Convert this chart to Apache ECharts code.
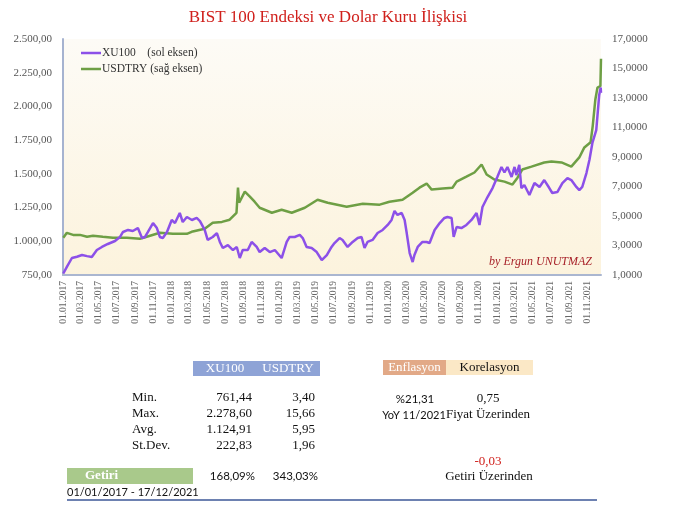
<!DOCTYPE html>
<html>
<head>
<meta charset="utf-8">
<script src="https://cdn.jsdelivr.net/npm/echarts@6/dist/echarts.min.js"></script>
<style>
html, body { margin: 0; padding: 0; background: #fff; }
#chart { width: 680px; height: 523px; }
</style>
</head>
<body>
<div id="chart"></div>
<script>
// XU100 (left axis)
const xuDates = ['2017-01-02','2017-01-14','2017-01-31','2017-02-17','2017-03-06','2017-03-23','2017-04-08','2017-04-25','2017-05-12','2017-06-01','2017-06-25','2017-07-12','2017-07-22','2017-08-08','2017-08-24','2017-09-10','2017-09-24','2017-10-04','2017-10-14','2017-10-31','2017-11-13','2017-11-23','2017-12-03','2017-12-17',
  '2018-01-02','2018-01-13','2018-01-29','2018-02-08','2018-02-22','2018-03-11','2018-03-27','2018-04-07','2018-04-23','2018-05-03','2018-05-20','2018-06-03','2018-06-13','2018-06-23','2018-07-10','2018-07-27','2018-08-09','2018-08-19','2018-08-29','2018-09-15','2018-09-28','2018-10-15','2018-10-25','2018-11-11','2018-11-28','2018-12-15',
  '2019-01-07','2019-01-24','2019-02-03','2019-02-20','2019-03-09','2019-03-19','2019-04-01','2019-04-18','2019-05-05','2019-05-22','2019-06-08','2019-06-24','2019-07-04','2019-07-21','2019-07-31','2019-08-17','2019-09-03','2019-09-20','2019-10-03','2019-10-13','2019-10-23','2019-11-09','2019-11-26','2019-12-13','2019-12-30',
  '2020-01-12','2020-01-22','2020-02-01','2020-02-15','2020-02-25','2020-03-03','2020-03-13','2020-03-23','2020-03-29','2020-04-09','2020-04-25','2020-05-09','2020-05-19','2020-06-05','2020-06-22','2020-07-08','2020-07-18','2020-08-01','2020-08-08','2020-08-18','2020-09-03','2020-09-20','2020-10-07','2020-10-24','2020-11-03','2020-11-13','2020-11-30','2020-12-17',
  '2021-01-02','2021-01-16','2021-01-26','2021-02-05','2021-02-19','2021-03-01','2021-03-07','2021-03-17','2021-03-24','2021-04-03','2021-04-20','2021-05-07','2021-05-24','2021-06-09','2021-06-26','2021-07-06','2021-07-23','2021-08-09','2021-08-26','2021-09-08','2021-09-25','2021-10-05','2021-10-15','2021-10-29','2021-11-08','2021-11-18','2021-12-01','2021-12-11','2021-12-16','2021-12-17'];
const xuValues = [761,810,876,885,898,890,883,935,958,980,1002,1032,1069,1084,1076,1098,1024,1032,1069,1135,1098,1032,1024,1069,
  1158,1135,1210,1143,1180,1158,1173,1150,1084,1010,1032,1061,995,950,972,935,958,876,935,935,995,958,920,950,920,935,
  876,995,1032,1032,1047,1024,958,950,920,861,898,958,987,1024,1010,958,995,1024,1032,950,995,1010,1061,1084,1121,
  1158,1225,1195,1210,1158,1061,913,846,898,958,995,995,987,1084,1135,1173,1180,1173,1032,1106,1098,1121,1158,1210,1121,1254,1328,1395,
  1477,1551,1510,1551,1477,1551,1491,1566,1395,1417,1343,1432,1403,1454,1395,1358,1365,1432,1469,1454,1403,1380,1403,1506,1603,1729,1825,2085,2140,2100];

// USDTRY (right axis)
const usdDates = ['2017-01-02','2017-01-14','2017-02-04','2017-02-27','2017-03-23','2017-04-12','2017-05-15','2017-06-18','2017-08-04','2017-09-17','2017-10-10','2017-11-23',
  '2018-01-06','2018-02-22','2018-03-10','2018-04-23','2018-05-20','2018-06-20','2018-07-16','2018-08-08','2018-08-13','2018-08-17','2018-09-05','2018-09-22','2018-10-08','2018-10-25','2018-12-05',
  '2019-01-07','2019-02-10','2019-03-26','2019-05-08','2019-06-11','2019-08-14','2019-10-07','2019-12-03',
  '2020-01-05','2020-02-18','2020-03-23','2020-04-15','2020-05-09','2020-05-26','2020-07-02','2020-08-04','2020-08-18','2020-09-20','2020-10-17','2020-11-10','2020-11-27','2020-12-23',
  '2021-01-26','2021-02-22','2021-03-11','2021-03-27','2021-04-27','2021-06-09','2021-07-03','2021-08-06','2021-09-08','2021-10-05','2021-10-22','2021-11-12','2021-11-19','2021-11-28','2021-12-05','2021-12-15','2021-12-17'];
const usdValues = [3.52,3.86,3.72,3.72,3.59,3.66,3.59,3.52,3.52,3.45,3.59,3.86,
  3.80,3.79,3.93,4.13,4.54,4.60,4.75,5.22,6.92,5.90,6.65,6.31,5.97,5.56,5.22,
  5.42,5.22,5.56,6.10,5.90,5.63,5.83,5.77,
  5.97,6.10,6.58,6.92,7.20,6.79,6.86,6.92,7.33,7.67,7.95,8.49,7.81,7.47,
  7.33,7.13,7.60,8.15,8.35,8.63,8.70,8.63,8.35,8.97,9.65,10.00,11.08,12.90,13.70,13.80,15.66];

// x axis tick labels (every two months)
const xTickLabels = ['01.01.2017','01.03.2017','01.05.2017','01.07.2017','01.09.2017','01.11.2017',
  '01.01.2018','01.03.2018','01.05.2018','01.07.2018','01.09.2018','01.11.2018',
  '01.01.2019','01.03.2019','01.05.2019','01.07.2019','01.09.2019','01.11.2019',
  '01.01.2020','01.03.2020','01.05.2020','01.07.2020','01.09.2020','01.11.2020',
  '01.01.2021','01.03.2021','01.05.2021','01.07.2021','01.09.2021','01.11.2021'];
const rightTicks = [1, 3, 5, 7, 9, 11, 13, 15, 17];

// summary table
const statLabels = ['Min.', 'Max.', 'Avg.', 'St.Dev.'];
const xuStats = [761.44, 2278.60, 1124.91, 222.83];
const usdStats = [3.40, 15.66, 5.95, 1.96];
const returns = ['168,09%', '343,03%'];

const serif = '"Liberation Serif", "DejaVu Serif", serif';
const sans = 'Lato, "Open Sans", sans-serif';

function trNum(v, dec) {
    let s = v.toFixed(dec).split('.');
    s[0] = s[0].replace(/\B(?=(\d{3})+(?!\d))/g, '.');
    return s.join(',');
}
// day number since 01.01.2017 (UTC, no DST trouble)
const DAY0 = Date.UTC(2017, 0, 1);
function isoDay(s) {
    const p = s.split('-');
    return (Date.UTC(+p[0], +p[1] - 1, +p[2]) - DAY0) / 86400000;
}
function lblDay(s) {
    const p = s.split('.');
    return (Date.UTC(+p[2], +p[1] - 1, +p[0]) - DAY0) / 86400000;
}
const tickDays = xTickLabels.map(lblDay);

const chart = echarts.init(document.getElementById('chart'));

// table graphics
const g = [];
function txt(x, y, text, font, fill, align) {
    g.push({ type: 'text', x: x, y: y, style: { text: text, font: font, fill: fill, textAlign: align || 'left', textVerticalAlign: 'middle' } });
}
function box(x, y, w, h, fill) {
    g.push({ type: 'rect', shape: { x: x, y: y, width: w, height: h }, style: { fill: fill } });
}

txt(328, 18, 'BIST 100 Endeksi ve Dolar Kuru İlişkisi', '17px ' + serif, '#d0201c', 'center');
txt(592, 262, 'by Ergun UNUTMAZ', 'italic 12px ' + serif, '#a8232a', 'right');

box(193, 361, 127, 15, '#8ea3d6');
txt(225, 368.5, 'XU100', '13px ' + serif, '#fff', 'center');
txt(288, 368.5, 'USDTRY', '13px ' + serif, '#fff', 'center');
statLabels.forEach((s, i) => {
    const y = 398 + i * 15.7;
    txt(132, y, s, '13px ' + serif, '#111');
    txt(252, y, trNum(xuStats[i], 2), '13px ' + serif, '#111', 'right');
    txt(315, y, trNum(usdStats[i], 2), '13px ' + serif, '#111', 'right');
});
box(67, 468, 126, 16, '#a9c98b');
txt(85, 476, 'Getiri', 'bold 13px ' + serif, '#fff');
txt(255, 476, returns[0], '11.5px ' + sans, '#111', 'right');
txt(318, 476, returns[1], '11.5px ' + sans, '#111', 'right');
txt(67, 492, '01/01/2017 - 17/12/2021', '11px ' + sans, '#111');
g.push({ type: 'line', shape: { x1: 67, y1: 500, x2: 597, y2: 500 }, style: { stroke: '#3d5797', lineWidth: 1.5 } });

box(383, 360, 63, 15, '#e2a987');
box(446, 360, 87, 15, '#fbe8c6');
txt(414.5, 367.5, 'Enflasyon', '13px ' + serif, '#fff', 'center');
txt(489.5, 367.5, 'Korelasyon', '13px ' + serif, '#111', 'center');
txt(415, 399, '%21,31', '11.5px ' + sans, '#111', 'center');
txt(488, 399, '0,75', '13px ' + serif, '#111', 'center');
txt(414, 415, 'YoY 11/2021', '11px ' + sans, '#111', 'center');
txt(488, 415, 'Fiyat Üzerinden', '13px ' + serif, '#111', 'center');
txt(488, 462, '-0,03', '13px ' + serif, '#d0201c', 'center');
txt(489, 477, 'Getiri Üzerinden', '13px ' + serif, '#111', 'center');

const legendNames = { 'XU100': 'XU100    (sol eksen)', 'USDTRY': 'USDTRY (sağ eksen)' };

chart.setOption({
    animation: false,
    backgroundColor: '#fff',
    textStyle: { fontFamily: serif },
    grid: {
        left: 63, right: 79, top: 39, bottom: 248,
        show: true, borderWidth: 0,
        backgroundColor: new echarts.graphic.LinearGradient(0, 0, 0, 1, [
            { offset: 0, color: '#fdfbf6' },
            { offset: 1, color: '#fcf3dd' }
        ])
    },
    legend: {
        orient: 'vertical',
        left: 76, top: 42,
        itemWidth: 20, itemHeight: 2.5, itemGap: 4,
        icon: 'rect',
        data: ['XU100', 'USDTRY'],
        formatter: n => legendNames[n],
        textStyle: { fontFamily: serif, fontSize: 11.5, color: '#333', padding: [0, 0, 0, -4] }
    },
    xAxis: {
        type: 'value',
        min: 0,
        max: isoDay('2021-12-17'),
        axisLine: { show: true, lineStyle: { color: '#aab6d0', width: 2 } },
        axisTick: { show: false },
        splitLine: { show: false },
        axisLabel: {
            rotate: 90,
            customValues: tickDays,
            formatter: v => xTickLabels[tickDays.indexOf(v)] || '',
            fontFamily: serif, fontSize: 9.5, color: '#666', margin: 6
        }
    },
    yAxis: [{
        type: 'value',
        min: 750, max: 2500, interval: 250,
        axisLine: { show: true, lineStyle: { color: '#a6b3d0', width: 2 } },
        axisTick: { show: false },
        splitLine: { show: false },
        axisLabel: { formatter: v => trNum(v, 2), fontFamily: serif, fontSize: 11, color: '#555', margin: 11 }
    }, {
        type: 'value',
        min: 1, max: 17,
        axisLine: { show: false },
        axisTick: { show: false },
        splitLine: { show: false },
        axisLabel: { customValues: rightTicks, formatter: v => trNum(v, 4), fontFamily: serif, fontSize: 11, color: '#555', margin: 11 }
    }],
    series: [{
        name: 'XU100',
        type: 'line',
        yAxisIndex: 0,
        showSymbol: false,
        z: 3,
        color: '#8c50e8',
        lineStyle: { width: 2.5, color: '#8c50e8' },
        data: xuDates.map((d, i) => [isoDay(d), xuValues[i]])
    }, {
        name: 'USDTRY',
        type: 'line',
        yAxisIndex: 1,
        showSymbol: false,
        z: 2,
        color: '#6e9f45',
        lineStyle: { width: 2.5, color: '#6e9f45' },
        data: usdDates.map((d, i) => [isoDay(d), usdValues[i]])
    }],
    graphic: { elements: g }
});
</script>
</body>
</html>
